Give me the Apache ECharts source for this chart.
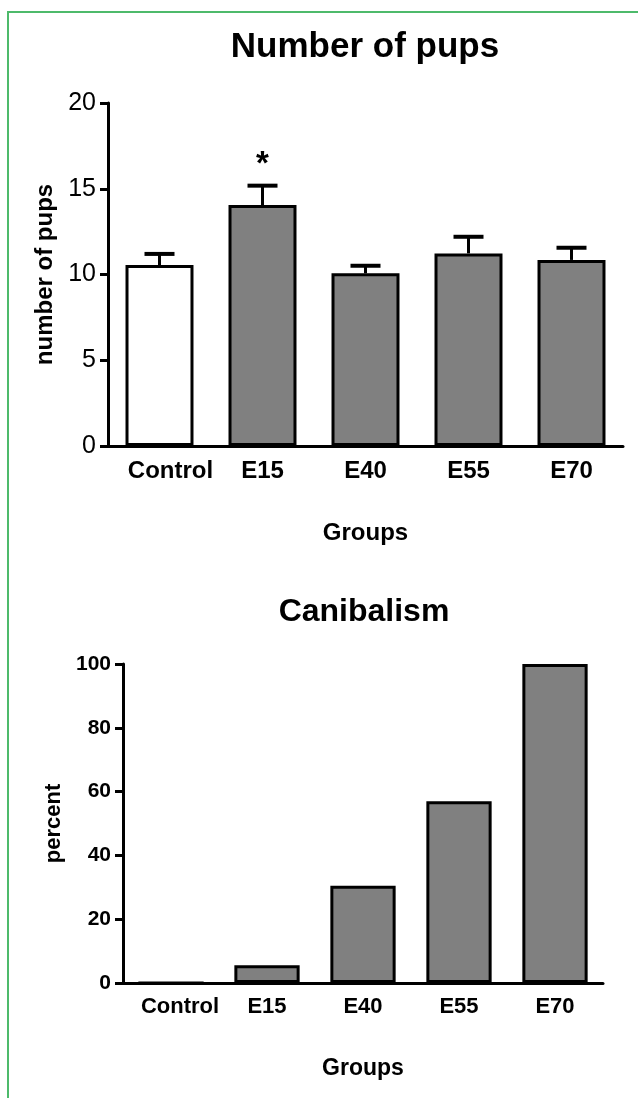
<!DOCTYPE html>
<html>
<head>
<meta charset="utf-8">
<script src="https://cdn.jsdelivr.net/npm/echarts@6/dist/echarts.min.js"></script>
<style>
  html, body { margin: 0; padding: 0; background: #fff; }
  #chart { width: 638px; height: 1098px; }
</style>
</head>
<body>
<div id="chart"></div>
<script>
// ---- data ----
const categories = ['Control', 'E15', 'E40', 'E55', 'E70'];
const pupsMean = [10.55, 14.05, 10.07, 11.23, 10.85];
const pupsUpper = [11.2, 15.18, 10.51, 12.2, 11.56];
const significance = ['', '*', '', '', ''];
const canibalismPercent = [0, 5.6, 30.5, 57, 100];
const titles = ['Number of pups', 'Canibalism'];
const yNames = ['number of pups', 'percent'];
const xName = 'Groups';

const FONT = 'Liberation Sans, Arial, sans-serif';
const chart = echarts.init(document.getElementById('chart'), null, { renderer: 'canvas' });

const pupsBarData = pupsMean.map((v, i) => ({
  value: v,
  itemStyle: { color: i === 0 ? '#ffffff' : '#808080' }
}));
const errData = categories.map((c, i) => [i, pupsMean[i], pupsUpper[i]]);

function xLabelFormatter(v) {
  return v === 'Control' ? '{s|' + v + '}' : v;
}

const option = {
  backgroundColor: '#ffffff',
  animation: false,
  graphic: [
    { type: 'polyline', shape: { points: [[8, 1098], [8, 12], [638, 12]] },
      style: { stroke: '#4dba6b', lineWidth: 2, fill: null } },
    { type: 'text', x: 365, y: 47,
      style: { text: titles[0], textAlign: 'center', textVerticalAlign: 'middle',
               font: 'bold 35px ' + FONT, fill: '#000' } },
    { type: 'text', x: 364, y: 612,
      style: { text: titles[1], textAlign: 'center', textVerticalAlign: 'middle',
               font: 'bold 32px ' + FONT, fill: '#000' } }
  ],
  grid: [
    { left: 108, right: 15, top: 103, bottom: 652 },
    { left: 123, right: 35, top: 664, bottom: 115 }
  ],
  xAxis: [
    {
      gridIndex: 0, type: 'category', data: categories,
      name: xName, nameLocation: 'middle', nameGap: 75,
      nameTextStyle: { fontFamily: FONT, fontWeight: 'bold', fontSize: 24, color: '#000' },
      axisLine: { lineStyle: { color: '#000', width: 3 } },
      axisTick: { show: false },
      axisLabel: {
        interval: 0, margin: 13, fontFamily: FONT, fontWeight: 'bold', fontSize: 24, color: '#000',
        formatter: xLabelFormatter,
        rich: { s: { padding: [0, 0, 0, 22], fontFamily: FONT, fontWeight: 'bold', fontSize: 24, color: '#000' } }
      }
    },
    {
      gridIndex: 1, type: 'category', data: categories,
      name: xName, nameLocation: 'middle', nameGap: 74,
      nameTextStyle: { fontFamily: FONT, fontWeight: 'bold', fontSize: 23, color: '#000' },
      axisLine: { lineStyle: { color: '#000', width: 3 } },
      axisTick: { show: false },
      axisLabel: {
        interval: 0, margin: 13, fontFamily: FONT, fontWeight: 'bold', fontSize: 22, color: '#000',
        formatter: xLabelFormatter,
        rich: { s: { padding: [0, 0, 0, 18], fontFamily: FONT, fontWeight: 'bold', fontSize: 22, color: '#000' } }
      }
    }
  ],
  yAxis: [
    {
      gridIndex: 0, type: 'value', min: 0, max: 20, interval: 5,
      name: yNames[0], nameLocation: 'middle', nameRotate: 90, nameGap: 50,
      nameTextStyle: { fontFamily: FONT, fontWeight: 'bold', fontSize: 24, color: '#000' },
      axisLine: { show: true, lineStyle: { color: '#000', width: 3 } },
      axisTick: { show: true, length: 8, lineStyle: { color: '#000', width: 3 } },
      splitLine: { show: false },
      axisLabel: { margin: 12, fontFamily: FONT, fontSize: 25, color: '#000' }
    },
    {
      gridIndex: 1, type: 'value', min: 0, max: 100, interval: 20,
      name: yNames[1], nameLocation: 'middle', nameRotate: 90, nameGap: 58,
      nameTextStyle: { fontFamily: FONT, fontWeight: 'bold', fontSize: 22, color: '#000' },
      axisLine: { show: true, lineStyle: { color: '#000', width: 3 } },
      axisTick: { show: true, length: 8, lineStyle: { color: '#000', width: 3 } },
      splitLine: { show: false },
      axisLabel: { margin: 12, fontFamily: FONT, fontWeight: 'bold', fontSize: 21, color: '#000' }
    }
  ],
  series: [
    {
      type: 'bar', xAxisIndex: 0, yAxisIndex: 0, data: pupsBarData,
      barWidth: '66%',
      itemStyle: { borderColor: '#000', borderWidth: 3 }
    },
    {
      type: 'custom', xAxisIndex: 0, yAxisIndex: 0, data: errData,
      encode: { x: 0, y: [1, 2] }, z: 5,
      renderItem: function (params, api) {
        const i = api.value(0);
        const p0 = api.coord([i, api.value(1)]);
        const p1 = api.coord([i, api.value(2)]);
        const half = 15;
        const children = [
          { type: 'line', shape: { x1: p0[0], y1: p0[1], x2: p1[0], y2: p1[1] },
            style: { stroke: '#000', lineWidth: 3 } },
          { type: 'line', shape: { x1: p1[0] - half, y1: p1[1], x2: p1[0] + half, y2: p1[1] },
            style: { stroke: '#000', lineWidth: 4 } }
        ];
        const sig = significance[params.dataIndex];
        if (sig) {
          children.push({ type: 'text', x: p1[0], y: p1[1] - 21,
            style: { text: sig, textAlign: 'center', textVerticalAlign: 'middle',
                     font: 'bold 33px ' + FONT, fill: '#000' } });
        }
        return { type: 'group', children: children };
      }
    },
    {
      type: 'bar', xAxisIndex: 1, yAxisIndex: 1, data: canibalismPercent,
      barWidth: '68%',
      itemStyle: { color: '#808080', borderColor: '#000', borderWidth: 3 }
    }
  ]
};
chart.setOption(option);
</script>
</body>
</html>
